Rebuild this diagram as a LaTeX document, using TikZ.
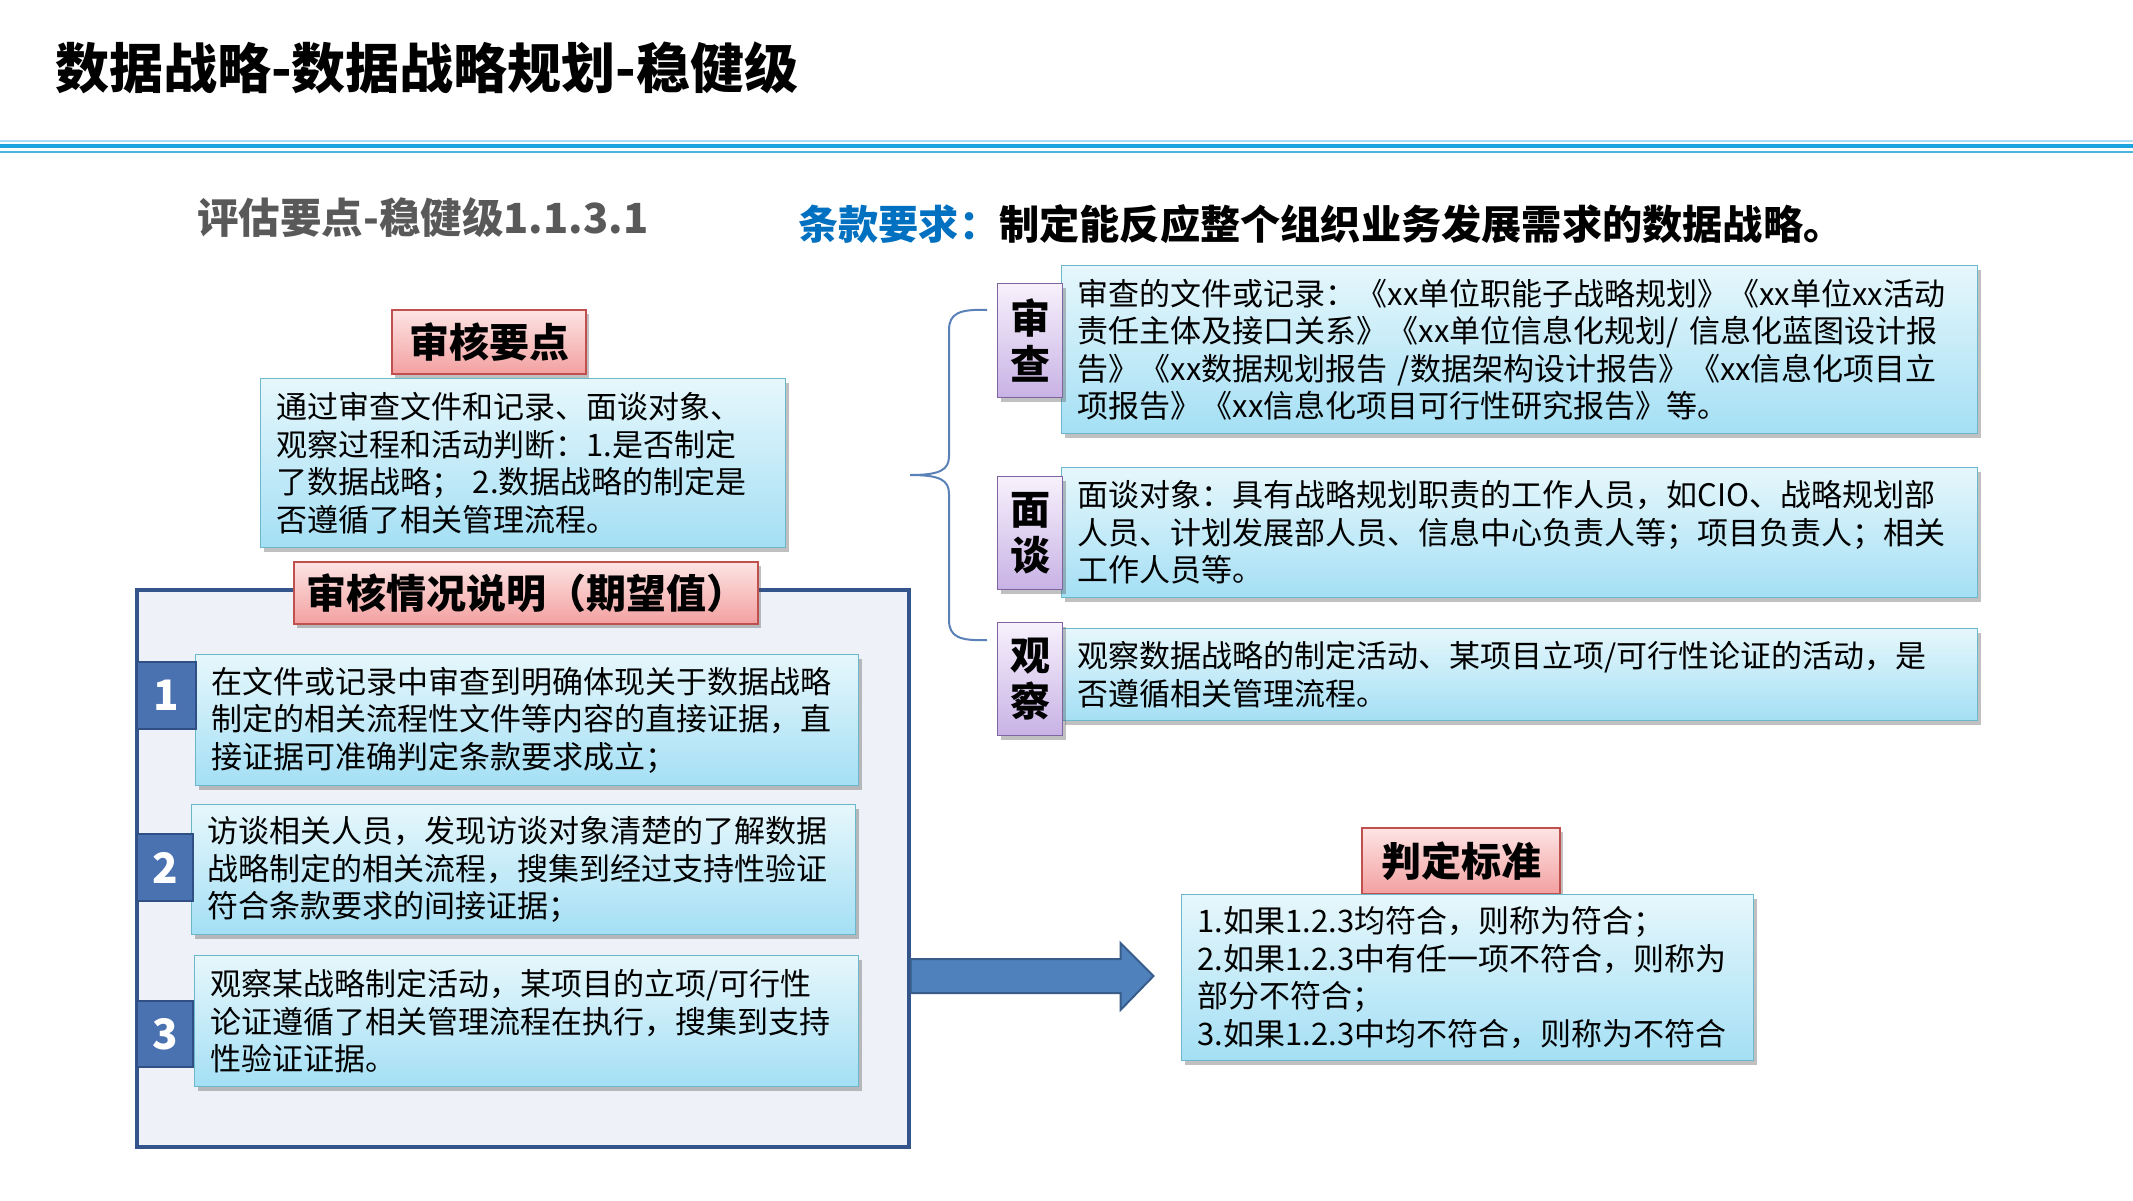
\documentclass[tikz,border=0pt]{standalone}
\usepackage{fontspec}
\setmainfont{Noto Sans CJK SC}
\usetikzlibrary{shadows,calc}
\definecolor{reqblue}{HTML}{0070C0}
\definecolor{subgray}{HTML}{595959}
\definecolor{frameFill}{HTML}{EEF1F8}
\definecolor{frameDraw}{HTML}{34558B}
\definecolor{tabFill}{HTML}{4A72B0}
\definecolor{tabDraw}{HTML}{2F4F85}
\definecolor{arrowFill}{HTML}{4F81BD}
\definecolor{arrowDraw}{HTML}{385D8A}
\definecolor{blueTop}{HTML}{E6F7FC}
\definecolor{blueBot}{HTML}{A4DFF4}
\definecolor{blueDraw}{HTML}{6BB8CC}
\definecolor{pinkTop}{HTML}{FDE4E4}
\definecolor{pinkBot}{HTML}{F3A0A0}
\definecolor{pinkDraw}{HTML}{C0504D}
\definecolor{purpleTop}{HTML}{F7F1FC}
\definecolor{purpleBot}{HTML}{C8B2E5}
\definecolor{purpleDraw}{HTML}{8064A2}
\definecolor{braceCol}{HTML}{5B82B8}
\definecolor{hlA}{HTML}{A6DDF4}
\definecolor{hlB}{HTML}{1BA4E0}
\definecolor{hlC}{HTML}{4AB5DD}
\newcommand\bodyf{\fontsize{31}{37.5}\selectfont}
\newcommand\headf{\bfseries\fontsize{40}{46}\selectfont}
\tikzset{
  shd/.style={drop shadow={shadow xshift=3pt,shadow yshift=-4pt,opacity=0.35,fill=black!70}},
  bluebox/.style={shd,draw=blueDraw,line width=1.3pt,top color=blueTop,bottom color=blueBot,
    anchor=north west,inner xsep=16pt,inner ysep=0pt,align=left,font=\bodyf},
  pinkbox/.style={shd,draw=pinkDraw,line width=1.1pt,top color=pinkTop,bottom color=pinkBot,
    inner sep=0pt,font=\headf},
  purplebox/.style={shd,draw=purpleDraw,line width=1.1pt,top color=purpleTop,bottom color=purpleBot,
    anchor=north west,inner sep=0pt,align=center,font=\headf,minimum width=65pt},
  tabbox/.style={draw=tabDraw,line width=2pt,fill=tabFill,anchor=north west,inner sep=0pt,
    text=white,font=\bfseries\fontsize{42}{46}\selectfont},
  plain/.style={inner sep=0pt,anchor=west},
  bigarrow/.style={draw=arrowDraw,line width=2pt,fill=arrowFill,line join=miter}
}
\begin{document}
\begin{tikzpicture}[x=1pt,y=-1pt]
\useasboundingbox[fill=white] (0,0) rectangle (2133,1200);
% title
\node[plain,font=\bfseries\fontsize{54}{58}\selectfont] (title) at (55,68) {数据战略-数据战略规划-稳健级};
\draw[hlA,line width=2.5pt] (0,141) -- (2133,141);
\draw[hlB,line width=4.5pt] (0,146) -- (2133,146);
\draw[hlC,line width=2.5pt] (0,152) -- (2133,152);
% subtitles
\node[plain,text=subgray,font=\bfseries\fontsize{41.5}{44}\selectfont] (sub) at (197,218) {评估要点-稳健级1.1.3.1};
\node[plain,font=\bfseries\fontsize{40.2}{44}\selectfont] (req) at (798,224) {\textcolor{reqblue}{条款要求：}制定能反应整个组织业务发展需求的数据战略。};
% left top
\node[pinkbox,minimum width=194pt,minimum height=64pt] (kp) at (489,342) {审核要点};
\node[bluebox,minimum width=525pt,minimum height=169pt,text width=493pt] (kpt) at (260,378)
 {通过审查文件和记录、面谈对象、\\观察过程和活动判断：1.是否制定\\了数据战略；~2.数据战略的制定是\\否遵循了相关管理流程。};
% frame
\node[draw=frameDraw,line width=3.5pt,fill=frameFill,anchor=north west,minimum width=772pt,minimum height=557pt,inner sep=0pt] (frame) at (135,588) {};
\node[pinkbox,minimum width=464pt,minimum height=62pt] (exp) at (526,593) {审核情况说明（期望值）};
\node[bluebox,minimum width=663pt,minimum height=131pt,text width=631pt] (e1) at (195,654)
 {在文件或记录中审查到明确体现关于数据战略\\制定的相关流程性文件等内容的直接证据，直\\接证据可准确判定条款要求成立；};
\node[bluebox,minimum width=664pt,minimum height=130pt,text width=632pt] (e2) at (191,804)
 {访谈相关人员，发现访谈对象清楚的了解数据\\战略制定的相关流程，搜集到经过支持性验证\\符合条款要求的间接证据；};
\node[bluebox,minimum width=664pt,minimum height=131pt,text width=632pt] (e3) at (194,955)
 {观察某战略制定活动，某项目的立项/可行性\\论证遵循了相关管理流程在执行，搜集到支持\\性验证证据。};
\node[tabbox,minimum width=59pt,minimum height=67pt] (n1) at (136,661) {1};
\node[tabbox,minimum width=56pt,minimum height=67pt] (n2) at (136,833) {2};
\node[tabbox,minimum width=56pt,minimum height=66pt] (n3) at (136,1000) {3};
% judge
\node[pinkbox,minimum width=198pt,minimum height=66pt] (jd) at (1461,861) {判定标准};
\node[bluebox,minimum width=572pt,minimum height=166pt,text width=540pt] (jdt) at (1181,894)
 {1.如果1.2.3均符合，则称为符合；\\2.如果1.2.3中有任一项不符合，则称为\\部分不符合；\\3.如果1.2.3中均不符合，则称为不符合};
% arrow from frame toward judge box
\coordinate (as) at (frame.east |- 0,959);
\draw[bigarrow] (as) -- ++(210,0) -- ++(0,-16) -- ++(33,33) -- ++(-33,34) -- ++(0,-17) -- ++(-210,0) -- cycle;
% right side boxes
\node[bluebox,minimum width=916pt,minimum height=168pt,text width=884pt] (r1) at (1061,265)
 {审查的文件或记录：《xx单位职能子战略规划》《xx单位xx活动\\责任主体及接口关系》《xx单位信息化规划/~信息化蓝图设计报\\告》《xx数据规划报告~/数据架构设计报告》《xx信息化项目立\\项报告》《xx信息化项目可行性研究报告》等。};
\node[bluebox,minimum width=916pt,minimum height=130pt,text width=884pt] (r2) at (1061,467)
 {面谈对象：具有战略规划职责的工作人员，如CIO、战略规划部\\人员、计划发展部人员、信息中心负责人等；项目负责人；相关\\工作人员等。};
\node[bluebox,minimum width=916pt,minimum height=92pt,text width=884pt] (r3) at (1061,628)
 {观察数据战略的制定活动、某项目立项/可行性论证的活动，是\\否遵循相关管理流程。};
\node[purplebox,minimum height=114pt] (l1) at (997,283) {审\\查};
\node[purplebox,minimum height=113pt] (l2) at (997,476) {面\\谈};
\node[purplebox,minimum height=113pt] (l3) at (997,622) {观\\察};
% brace
\coordinate (bt) at (987,310);
\coordinate (bm) at (910,475);
\coordinate (bb) at (987,640);
\draw[braceCol,line width=2pt] (bt) .. controls (960,309) and (949,313) .. (949,330) -- (949,456)
  .. controls (949,470) and (940,475) .. (bm) .. controls (940,475) and (949,480) .. (949,494)
  -- (949,620) .. controls (949,637) and (960,641) .. (bb);
\end{tikzpicture}
\end{document}
